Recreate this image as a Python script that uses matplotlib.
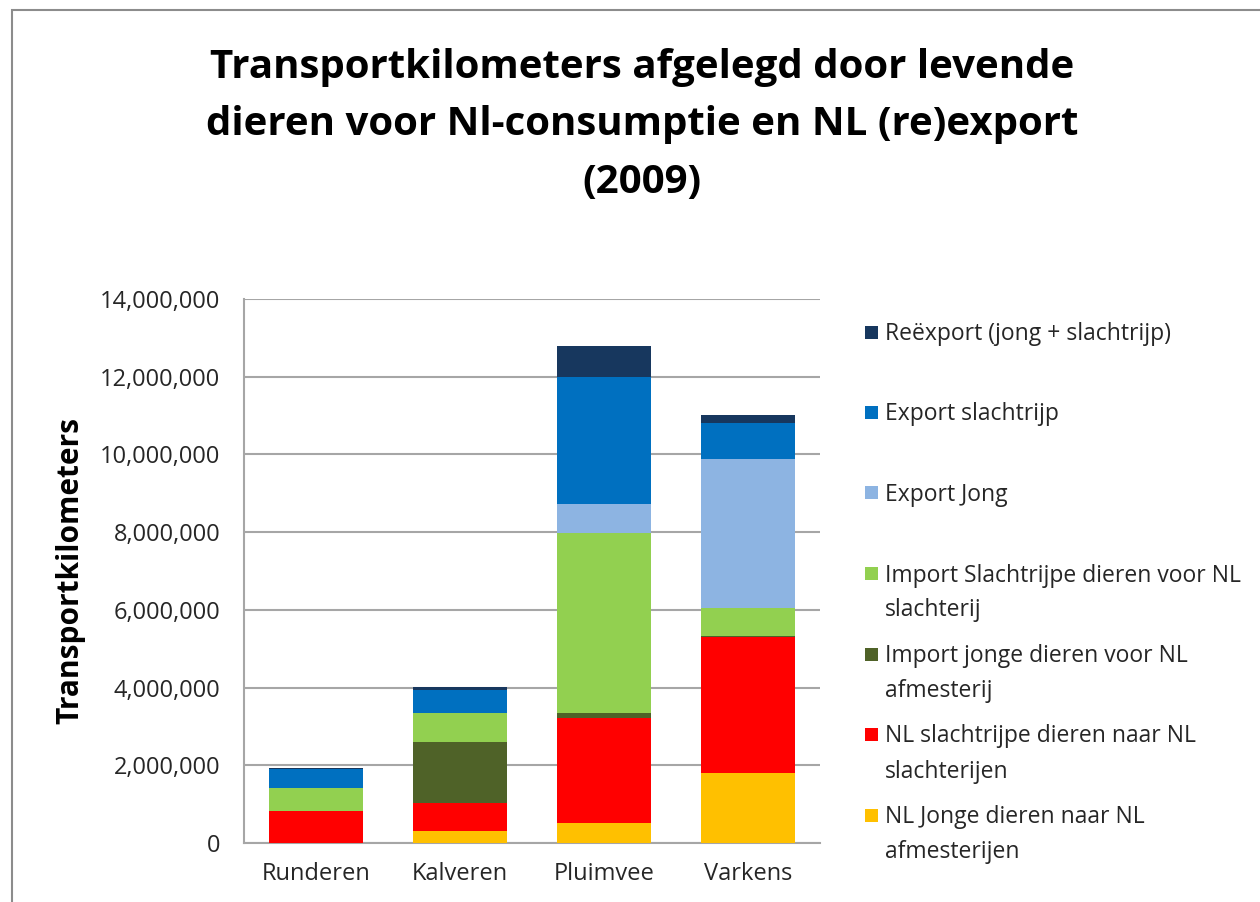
import matplotlib
matplotlib.use("Agg")
import matplotlib.pyplot as plt
from matplotlib.patches import Rectangle
from matplotlib.ticker import FuncFormatter
import numpy as np

plt.rcParams['font.family'] = ['Open Sans', 'DejaVu Sans']

categorieen = ['Runderen', 'Kalveren', 'Pluimvee', 'Varkens']

# waarden in km, van onder naar boven gestapeld
nl_jong = [0, 310000, 510000, 1800000]
nl_slachtrijp = [820000, 710000, 2710000, 3510000]
import_jong = [0, 1590000, 130000, 20000]
import_slachtrijp = [600000, 730000, 4620000, 730000]
export_jong = [0, 0, 760000, 3820000]
export_slachtrijp = [480000, 600000, 3270000, 920000]
reexport = [20000, 80000, 780000, 210000]

series = [
    ('NL Jonge dieren naar NL\nafmesterijen', nl_jong, '#FFC000'),
    ('NL slachtrijpe dieren naar NL\nslachterijen', nl_slachtrijp, '#FF0000'),
    ('Import jonge dieren voor NL\nafmesterij', import_jong, '#4F6228'),
    ('Import Slachtrijpe dieren voor NL\nslachterij', import_slachtrijp, '#92D050'),
    ('Export Jong', export_jong, '#8DB4E2'),
    ('Export slachtrijp', export_slachtrijp, '#0070C0'),
    ('Reëxport (jong + slachtrijp)', reexport, '#17375E'),
]

W, H = 1260, 902
fig = plt.figure(figsize=(12.6, 9.02), dpi=100)
# kader rond de grafiek
fig.patches.append(Rectangle((12/W, -0.01), 1.2, 1 - 10/H + 0.01, transform=fig.transFigure,
                             fill=False, edgecolor='#8c8c8c', linewidth=1.5))

ax = fig.add_axes([244/W, 59/H, 576/W, 544/H])
x = np.arange(len(categorieen))
bottom = np.zeros(len(categorieen))
for label, vals, kleur in series:
    ax.bar(x, vals, 0.65, bottom=bottom, color=kleur, label=label, zorder=3)
    bottom += np.array(vals)

ax.set_xlim(-0.5, 3.5)
ax.set_ylim(0, 14000000)
ax.set_yticks(np.arange(0, 14000001, 2000000))
ax.yaxis.set_major_formatter(FuncFormatter(lambda v, p: f'{int(v):,}'))
ax.set_xticks(x)
ax.set_xticklabels(categorieen)
ax.tick_params(length=0, labelsize=17, colors='#262626')
ax.tick_params(axis='y', pad=17)
ax.tick_params(axis='x', pad=14)
ax.grid(axis='y', color='#a6a6a6', linewidth=1.5, zorder=0)
for s in ['top', 'right']:
    ax.spines[s].set_visible(False)
for s in ['left', 'bottom']:
    ax.spines[s].set_color('#a6a6a6')
    ax.spines[s].set_linewidth(1.5)

ax.set_ylabel('Transportkilometers', fontsize=21.5, fontweight='bold')
ax.yaxis.set_label_coords(-0.276, 0.5)

fig.text(642/W, 1 - 125/H, 'Transportkilometers afgelegd door levende\ndieren voor Nl-consumptie en NL (re)export\n(2009)',
         ha='center', va='center', fontsize=29, fontweight='bold', linespacing=1.62)

# legenda, van boven naar beneden
for i, (label, _, kleur) in enumerate(series[::-1]):
    yc = 332 + i * 80.5
    fig.patches.append(Rectangle((865/W, 1 - (yc + 6.5)/H), 13/W, 13/H, transform=fig.transFigure,
                                 facecolor=kleur, edgecolor='none'))
    for k, regel in enumerate(label.split('\n')):
        fig.text(885/W, 1 - (yc + 8 + k * 35)/H, regel, ha='left', va='baseline',
                 fontsize=16.5, color='#262626')

fig.savefig('out.png', dpi=100)
